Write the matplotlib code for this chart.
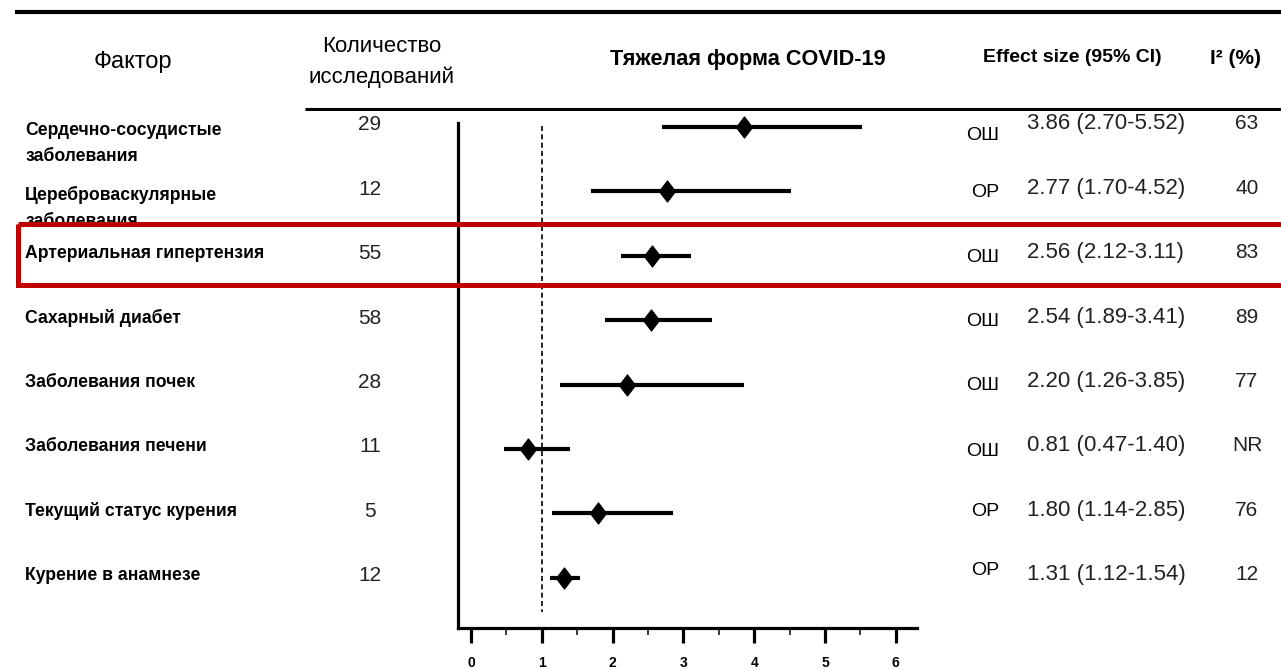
import matplotlib
matplotlib.use('Agg')
import matplotlib.pyplot as plt
import matplotlib.transforms as mtransforms
from matplotlib.patches import Rectangle
from matplotlib.path import Path

# ---------------- data ----------------
factors = ["Сердечно-сосудистые\nзаболевания", "Цереброваскулярные\nзаболевания",
           "Артериальная гипертензия", "Сахарный диабет", "Заболевания почек",
           "Заболевания печени", "Текущий статус курения", "Курение в анамнезе"]
n_studies = [29, 12, 55, 58, 28, 11, 5, 12]
measure = ["ОШ", "ОР", "ОШ", "ОШ", "ОШ", "ОШ", "ОР", "ОР"]
effect = [3.86, 2.77, 2.56, 2.54, 2.20, 0.81, 1.80, 1.31]
ci_low = [2.70, 1.70, 2.12, 1.89, 1.26, 0.47, 1.14, 1.12]
ci_high = [5.52, 4.52, 3.11, 3.41, 3.85, 1.40, 2.85, 1.54]
i2 = ["63", "40", "83", "89", "77", "NR", "76", "12"]
x_ticks = [0, 1, 2, 3, 4, 5, 6]
x_minor = [0.5, 1.5, 2.5, 3.5, 4.5, 5.5]
headers = ["Фактор", "Количество\nисследований", "Тяжелая форма COVID-19",
           "Effect size (95% CI)", "I² (%)"]

plt.rcParams['font.family'] = ['Liberation Sans', 'DejaVu Sans']

W, H = 1281, 670
fig = plt.figure(figsize=(W / 100, H / 100), dpi=100)
fig.patch.set_facecolor('white')

# forest axes
ax = fig.add_axes([458 / W, (H - 628) / H, (917 - 458) / W, (628 - 123) / H])
ax.set_xlim(-0.184, 6.30)
ax.set_ylim(7.78, -0.062)
for s in ['top', 'right']:
    ax.spines[s].set_visible(False)
for s in ['left', 'bottom']:
    ax.spines[s].set_linewidth(2.3)
ax.set_yticks([])
ax.set_xticks(x_ticks)
ax.set_xticks(x_minor, minor=True)
ax.tick_params(axis='x', which='major', length=11, width=2.3, pad=9,
               labelsize=10)
ax.tick_params(axis='x', which='minor', length=5, width=1.1)
for lab in ax.get_xticklabels():
    lab.set_fontweight('bold')

rows = list(range(len(factors)))
ax.plot([1, 1], [-0.02, 7.53], color='black', lw=1.2, ls=(0, (3, 2)))
diamond = Path([(0, 1), (0.76, 0), (0, -1), (-0.76, 0), (0, 1)],
               [Path.MOVETO, Path.LINETO, Path.LINETO, Path.LINETO, Path.CLOSEPOLY])
ax.hlines(rows, ci_low, ci_high, color='black', lw=3.0, zorder=3, clip_on=False)
ax.plot(effect, rows, ls='none', marker=diamond, markersize=15,
        color='black', zorder=4, clip_on=False)

# overlay in pixel coordinates
ov = fig.add_axes([0, 0, 1, 1], zorder=5)
ov.set_xlim(0, W)
ov.set_ylim(H, 0)
ov.axis('off')
ov.patch.set_visible(False)

# rules
ov.plot([15, W], [12, 12], color='black', lw=3.0, solid_capstyle='butt')
ov.plot([305, W], [109, 109], color='black', lw=2.2, solid_capstyle='butt')

# headers
ov.text(133, 62, headers[0], ha='center', va='center', fontsize=17)
ov.text(382, 62, headers[1], ha='center', va='center', fontsize=16,
        linespacing=1.55)
ov.text(748, 60, headers[2], ha='center', va='center', fontsize=15.6,
        fontweight='bold')
ov.text(1072, 58, headers[3], ha='center', va='center', fontsize=14,
        fontweight='bold')
ov.text(1236, 58, headers[4], ha='center', va='center', fontsize=15,
        fontweight='bold')


def rowtrans(dy_px):
    base = mtransforms.blended_transform_factory(ov.transData, ax.transData)
    return base + mtransforms.ScaledTranslation(0, -dy_px / 100, fig.dpi_scale_trans)


meas_dy = [9, 1, 2, 1, 1, 3, -2, -7]
for i in rows:
    lines = factors[i].split('\n')
    if len(lines) > 1:
        for k, ln in enumerate(lines):
            ov.text(25, i, ln, ha='left', va='center', fontsize=12.7,
                    fontweight='bold', transform=rowtrans(4 + 26 * k))
    else:
        ov.text(25, i, lines[0], ha='left', va='center', fontsize=12.7,
                fontweight='bold', transform=rowtrans(-2))
    ov.text(370, i, str(n_studies[i]), ha='center', va='center', fontsize=15,
            color='#222222', transform=rowtrans(-2))
    ov.text(999, i, measure[i], ha='right', va='center', fontsize=14,
            transform=rowtrans(meas_dy[i]))
    ov.text(1027, i, f"{effect[i]:.2f} ({ci_low[i]:.2f}-{ci_high[i]:.2f})",
            ha='left', va='center', fontsize=16, color='#222222',
            transform=rowtrans(-3))
    ov.text(1247, i, i2[i], ha='center', va='center', fontsize=15,
            color='#222222', transform=rowtrans(-3))

# highlight box (hides bottom of the second-row label like the original)
ov.add_patch(Rectangle((20, 227), 290, 18, facecolor='white', edgecolor='none',
                       zorder=6))
ov.add_patch(Rectangle((18, 224), W + 20 - 18, 285 - 224, facecolor='none',
                       edgecolor='#C00000', lw=3.6, zorder=7, clip_on=False))

fig.savefig('out.png', dpi=100)
